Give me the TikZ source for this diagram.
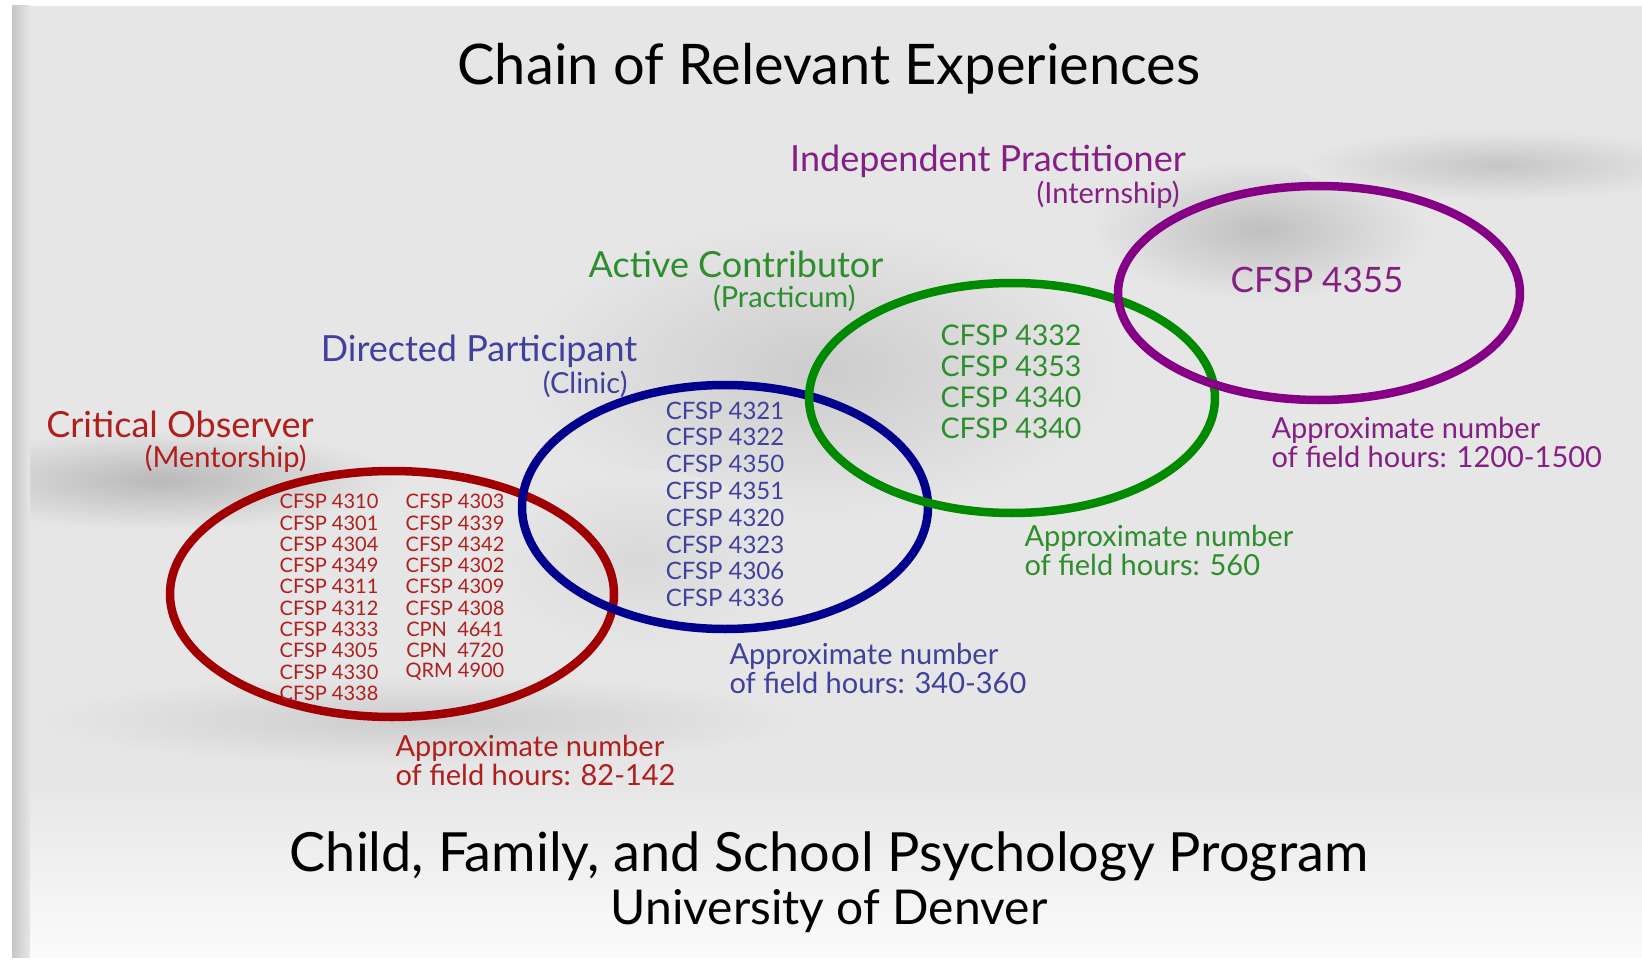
\documentclass[tikz,border=0pt]{standalone}
\usepackage{fontspec}
\setmainfont{Lato}

% ring and text colours of the four stages
\definecolor{obsring}{HTML}{A00000}
\definecolor{obstext}{HTML}{B01E1E}
\definecolor{dirring}{HTML}{00008C}
\definecolor{dirtext}{HTML}{40409E}
\definecolor{actring}{HTML}{008A00}
\definecolor{acttext}{HTML}{2E8E2E}
\definecolor{indring}{HTML}{860086}
\definecolor{indtext}{HTML}{842084}
\definecolor{slide}{HTML}{E6E6E6}

\begin{document}
\begin{tikzpicture}[x=1pt,y=-1pt,
    ring/.style={line width=8.5pt},
    stage/.style={font=\fontsize{36}{38}\selectfont},
    sub/.style={anchor=east,font=\fontsize{29}{31}\selectfont},
    course/.style={font=\fontsize{#1}{#1}\selectfont},
    course/.default=24,
    hours/.style={anchor=west,align=left,font=\fontsize{29}{29}\selectfont}]

\useasboundingbox (0,0) rectangle (1642,963);

% slide background
\fill[white] (0,0) rectangle (1642,963);
\begin{scope}
\clip (12,6) rectangle (1642,957);
\fill[slide] (12,6) rectangle (1642,957);
% blurred swirl behind the rings
\shade[inner color=gray!55,outer color=slide] (160,480) ellipse [x radius=240,y radius=50];
\shade[inner color=gray!40,outer color=slide] (820,370) ellipse [x radius=300,y radius=150];
\shade[inner color=gray!50,outer color=slide] (1260,230) ellipse [x radius=170,y radius=70];
\shade[inner color=gray!45,outer color=slide] (1500,165) ellipse [x radius=200,y radius=35];
\shade[inner color=gray!40,outer color=slide] (420,720) ellipse [x radius=380,y radius=45];
\shade[inner color=gray!30,outer color=slide] (640,560) ellipse [x radius=150,y radius=90];
\shade[top color=slide,bottom color=gray!3] (12,780) rectangle (1642,957);
\shade[left color=gray!45,right color=slide] (12,6) rectangle (30,957);
\end{scope}

% titles
\node (title) at (829,69) {\fontsize{56}{58}\selectfont Chain of Relevant Experiences};
\node (program) at (829,857) {\fontsize{54}{56}\selectfont Child, Family, and School Psychology Program};
\node (univ) at (829,911) {\fontsize{48}{50}\selectfont University of Denver};

% rings
\draw[ring,obsring] (392,594) ellipse [x radius=222,y radius=123];
\draw[ring,dirring] (725,507) ellipse [x radius=203,y radius=122];
\draw[ring,actring] (1012,398) ellipse [x radius=203,y radius=115];
\draw[ring,indring] (1319,293) ellipse [x radius=201,y radius=107];

% Critical Observer
\begin{scope}[obstext]
\node[stage] (obs) at (180,424) {Critical Observer};
\node[sub] (obssub) at (310,459) {(Mentorship)};
\foreach \c [count=\i] in {4310,4301,4304,4349,4311,4312,4333,4305,4330,4338}
  \node[course=20] (obsl\i) at (329,480.3+21.3*\i) {CFSP \c};
\foreach \c [count=\i] in {CFSP 4303,CFSP 4339,CFSP 4342,CFSP 4302,CFSP 4309,CFSP 4308,CPN\ \ 4641,CPN\ \ 4720,QRM 4900}
  \node[course=20] (obsr\i) at (455,480.3+21.3*\i) {\c};
\node[hours] (obshrs) at (392,760) {Approximate number\\of field hours: 82-142};
\end{scope}

% Directed Participant
\begin{scope}[dirtext]
\node[stage] (dir) at (479,351) {Directed Participant};
\node[sub] (dirsub) at (631,384) {(Clinic)};
\foreach \c [count=\i] in {4321,4322,4350,4351,4320,4323,4306,4336}
  \node[course=24] (dirc\i) at (725,383.7+26.8*\i) {CFSP \c};
\node[hours] (dirhrs) at (726,668) {Approximate number\\of field hours: 340-360};
\end{scope}

% Active Contributor
\begin{scope}[acttext]
\node[stage] (act) at (736,264) {Active Contributor};
\node[sub] (actsub) at (859,298) {(Practicum)};
\foreach \c [count=\i] in {4332,4353,4340,4340}
  \node[course=28.5] (actc\i) at (1011,304+31*\i) {CFSP \c};
\node[hours] (acthrs) at (1021,550) {Approximate number\\of field hours: 560};
\end{scope}

% Independent Practitioner
\begin{scope}[indtext]
\node[stage] (ind) at (988,161) {Independent Practitioner};
\node[sub] (indsub) at (1183,195) {(Internship)};
\node[course=35] (indc1) at (1317,280) {CFSP 4355};
\node[hours] (indhrs) at (1268,442) {Approximate number\\of field hours: 1200-1500};
\end{scope}

\end{tikzpicture}
\end{document}
